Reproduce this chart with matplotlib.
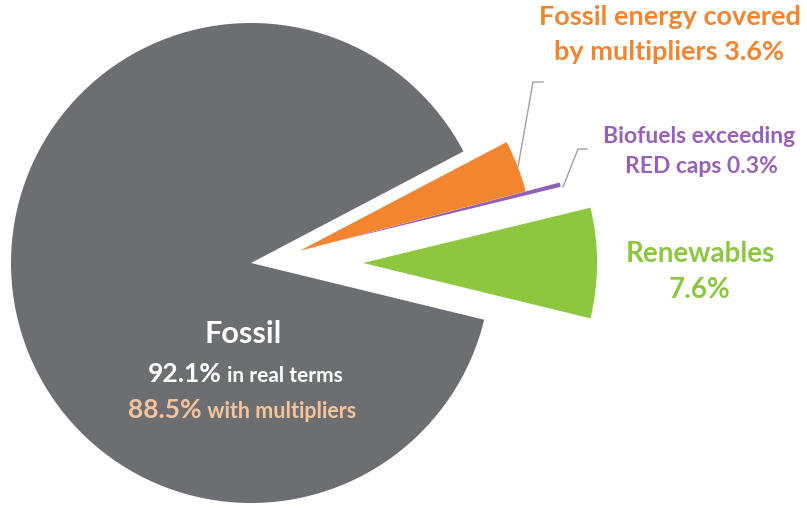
import numpy as np
import matplotlib.pyplot as plt

plt.rcParams['font.family'] = ['Lato', 'DejaVu Sans']

# slices, counter-clockwise from the right-hand side
categories = ['Renewables', 'Biofuels exceeding RED caps', 'Fossil energy covered by multipliers', 'Fossil']
shares = [7.6, 0.3, 3.6, 88.5]
colors = ['#8DC63F', '#9060B5', '#F28530', '#6D6E71']
explode = [0.467, 0.354, 0.208, 0.0]

fossil_real = 92.1
fossil_mult = 88.5

W, H = 807, 508
CX, CY, R = 251, 263, 240   # pie centre / radius in pixels


def fx(x):
    return x / W


def fy(y):
    return 1 - y / H


fig = plt.figure(figsize=(W / 100, H / 100), dpi=100)
ax = fig.add_axes([0, 0, 1, 1])

start = -shares[0] / 100 * 360 / 2
wedges, _ = ax.pie(shares, colors=colors, explode=explode, startangle=start,
                   counterclock=True, radius=1, wedgeprops=dict(linewidth=0))
for w in wedges[:3]:
    w.set_radius(0.975)
# the orange slice sits a little lower in the original
c = wedges[2].center
wedges[2].set_center((c[0] + 0.008, c[1] - 0.025))

ax.set_xlim(-CX / R, (W - CX) / R)
ax.set_ylim(-(H - CY) / R, CY / R)
ax.set_aspect('equal')
ax.axis('off')

# labels
bold = dict(fontweight='bold', ha='center', va='baseline')
fig.text(fx(670), fy(25), 'Fossil energy covered', color='#F28530', fontsize=19.5, **bold)
fig.text(fx(669), fy(60), f'by multipliers {shares[2]}%', color='#F28530', fontsize=19.5, **bold)
fig.text(fx(699), fy(143), 'Biofuels exceeding', color='#9562B8', fontsize=16.5, **bold)
fig.text(fx(701), fy(173), f'RED caps {shares[1]}%', color='#9562B8', fontsize=16.5, **bold)
fig.text(fx(700), fy(262), 'Renewables', color='#8DC63F', fontsize=20, **bold)
fig.text(fx(700), fy(298), f'{shares[0]}%', color='#8DC63F', fontsize=20, **bold)

fig.text(fx(243), fy(343), 'Fossil', color='white', fontsize=22, **bold)
t1 = fig.text(fx(148), fy(382), f'{fossil_real}%', color='white', fontsize=19,
              fontweight='bold', ha='left', va='baseline')
ax.annotate(' in real terms', xy=(1, 0), xycoords=t1, va='bottom', ha='left',
            color='white', fontsize=15, fontweight='bold')
t2 = fig.text(fx(128), fy(418), f'{fossil_mult}%', color='#F5C49B', fontsize=19,
              fontweight='bold', ha='left', va='baseline')
ax.annotate(' with multipliers', xy=(1, 0), xycoords=t2, va='bottom', ha='left',
            color='#F5C49B', fontsize=15.5, fontweight='bold')

# leader lines
lead = dict(color='#A0A0A0', lw=1, transform=fig.transFigure)
ax.plot([fx(518), fx(533), fx(543)], [fy(167), fy(82), fy(82)], **lead)
ax.plot([fx(563), fx(578), fx(587)], [fy(187), fy(149), fy(149)], **lead)

fig.savefig('out.png', dpi=100)
